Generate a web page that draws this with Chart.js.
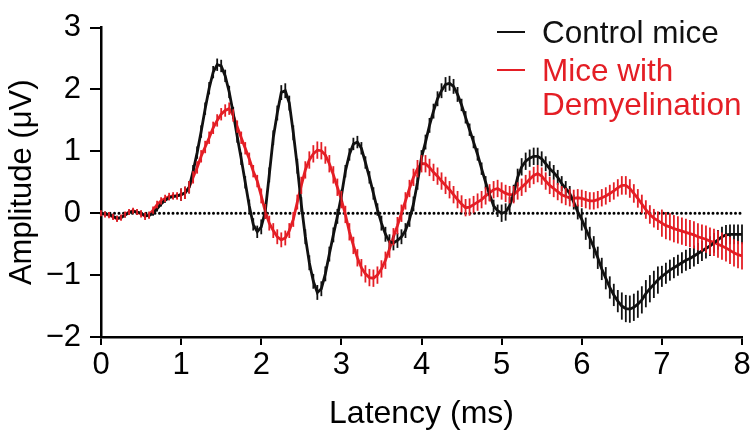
<!DOCTYPE html>
<html>
<head>
<meta charset="utf-8">
<script src="https://cdn.jsdelivr.net/npm/chart.js@4"></script>
<style>
  html, body { margin: 0; padding: 0; background: #fff; }
  #wrap { width: 755px; height: 443px; position: relative; }
</style>
</head>
<body>
<div id="wrap"><canvas id="chart" width="755" height="443"></canvas></div>
<script>
// sample spacing of the recordings (ms)
const step = 0.05;

// mean amplitude (µV) for control mice, one value every 0.05 ms from 0 to 8 ms
const controlMice = [
  0.00, -0.01, -0.02, -0.05, -0.08, -0.07, -0.03, 0.01, 0.03, 0.02,
  0.00, -0.04, -0.04, 0.00, 0.07, 0.15, 0.21, 0.25, 0.27, 0.28,
  0.30, 0.33, 0.42, 0.68, 0.98, 1.32, 1.69, 2.02, 2.28, 2.40,
  2.38, 2.22, 1.96, 1.62, 1.24, 0.88, 0.50, 0.12, -0.18, -0.30,
  -0.22, 0.03, 0.62, 1.22, 1.62, 1.95, 1.98, 1.78, 1.30, 0.76,
  0.14, -0.38, -0.80, -1.10, -1.28, -1.22, -0.98, -0.66, -0.35, -0.05,
  0.28, 0.68, 0.95, 1.12, 1.15, 1.05, 0.82, 0.58, 0.32, 0.06,
  -0.16, -0.34, -0.46, -0.48, -0.44, -0.38, -0.28, -0.10, 0.15, 0.50,
  0.90, 1.15, 1.42, 1.65, 1.85, 1.98, 2.08, 2.10, 2.05, 1.92,
  1.75, 1.55, 1.35, 1.15, 0.95, 0.72, 0.50, 0.30, 0.12, 0.04,
  0.00, 0.02, 0.12, 0.32, 0.58, 0.75, 0.84, 0.89, 0.92, 0.92,
  0.88, 0.80, 0.72, 0.66, 0.58, 0.48, 0.40, 0.32, 0.18, 0.02,
  -0.10, -0.25, -0.40, -0.55, -0.72, -0.90, -1.05, -1.20, -1.32, -1.42,
  -1.50, -1.54, -1.55, -1.52, -1.47, -1.40, -1.30, -1.22, -1.15, -1.08,
  -1.02, -0.97, -0.92, -0.88, -0.84, -0.80, -0.76, -0.73, -0.69, -0.65,
  -0.61, -0.57, -0.53, -0.48, -0.43, -0.38, -0.35, -0.34, -0.34, -0.34,
  -0.34
];

// mean amplitude (µV) for mice with demyelination, same sampling
const demyelMice = [
  0.00, -0.02, -0.03, -0.06, -0.09, -0.07, -0.02, 0.02, 0.04, 0.02,
  -0.01, -0.05, -0.03, 0.05, 0.14, 0.20, 0.24, 0.27, 0.28, 0.28,
  0.30, 0.33, 0.42, 0.58, 0.74, 0.92, 1.07, 1.22, 1.38, 1.50,
  1.60, 1.66, 1.69, 1.58, 1.40, 1.22, 1.05, 0.88, 0.68, 0.52,
  0.28, 0.03, -0.16, -0.28, -0.38, -0.43, -0.40, -0.28, -0.10, 0.18,
  0.45, 0.70, 0.86, 0.96, 1.02, 1.01, 0.94, 0.80, 0.62, 0.42,
  0.22, -0.02, -0.30, -0.52, -0.72, -0.88, -0.98, -1.04, -1.05, -1.00,
  -0.90, -0.76, -0.58, -0.38, -0.20, 0.00, 0.20, 0.40, 0.58, 0.72,
  0.80, 0.80, 0.74, 0.66, 0.60, 0.52, 0.45, 0.38, 0.30, 0.22,
  0.15, 0.09, 0.10, 0.14, 0.18, 0.22, 0.28, 0.33, 0.38, 0.40,
  0.36, 0.32, 0.30, 0.30, 0.36, 0.42, 0.48, 0.55, 0.61, 0.64,
  0.60, 0.52, 0.45, 0.40, 0.35, 0.30, 0.27, 0.25, 0.24, 0.25,
  0.24, 0.22, 0.20, 0.20, 0.22, 0.25, 0.28, 0.32, 0.36, 0.41,
  0.45, 0.45, 0.40, 0.32, 0.24, 0.15, 0.06, -0.02, -0.08, -0.12,
  -0.16, -0.20, -0.22, -0.25, -0.27, -0.29, -0.31, -0.33, -0.35, -0.38,
  -0.40, -0.42, -0.45, -0.47, -0.50, -0.53, -0.56, -0.60, -0.64, -0.67,
  -0.69
];

// SEM, one value per 0.5 ms window
const controlSem = [0.04, 0.04, 0.10, 0.10, 0.12, 0.12, 0.10, 0.12, 0.12, 0.10, 0.14, 0.12, 0.18, 0.22, 0.17, 0.16, 0.16];
const demyelSem  = [0.05, 0.06, 0.10, 0.10, 0.12, 0.14, 0.14, 0.14, 0.14, 0.14, 0.14, 0.14, 0.14, 0.15, 0.22, 0.22, 0.22];

const xTicks = [0, 1, 2, 3, 4, 5, 6, 7, 8];
const yTicks = [-2, -1, 0, 1, 2, 3];
const seriesNames = ['Control mice', ['Mice with', 'Demyelination']];

const BLACK = '#111111';
const RED = '#e41e25';

function toPoints(values) {
  return values.map((v, i) => ({ x: +(i * step).toFixed(2), y: v }));
}

// vertical error bars + the dotted zero line
const errorBars = {
  id: 'errorBars',
  beforeDatasetsDraw(chart) {
    const ctx = chart.ctx;
    const xs = chart.scales.x, ys = chart.scales.y;
    ctx.save();
    ctx.strokeStyle = '#000';
    ctx.lineWidth = 3;
    ctx.lineCap = 'round';
    ctx.setLineDash([0, 4.5]);
    ctx.beginPath();
    ctx.moveTo(xs.getPixelForValue(0), ys.getPixelForValue(0));
    ctx.lineTo(xs.getPixelForValue(8), ys.getPixelForValue(0));
    ctx.stroke();
    ctx.restore();
  },
  afterDatasetsDraw(chart) {
    const ctx = chart.ctx;
    const ys = chart.scales.y;
    chart.data.datasets.forEach((ds, di) => {
      const meta = chart.getDatasetMeta(di);
      ctx.save();
      ctx.strokeStyle = ds.borderColor;
      ctx.lineWidth = 1.8;
      meta.data.forEach((pt, i) => {
        const v = ds.data[i].y;
        const e = ds.sem[Math.floor(ds.data[i].x / 0.5)];
        ctx.beginPath();
        ctx.moveTo(pt.x, ys.getPixelForValue(v - e));
        ctx.lineTo(pt.x, ys.getPixelForValue(v + e));
        ctx.stroke();
      });
      ctx.restore();
    });
  }
};

// legend drawn at the top right of the plot
const sideLegend = {
  id: 'sideLegend',
  afterDraw(chart) {
    const ctx = chart.ctx;
    ctx.save();
    ctx.font = '31.5px "Liberation Sans", Arial, sans-serif';
    ctx.textBaseline = 'middle';
    const rows = [[32], [70, 104]];
    chart.data.datasets.forEach((ds, di) => {
      const ys = rows[di];
      ctx.strokeStyle = ds.borderColor;
      ctx.lineWidth = 2;
      ctx.beginPath();
      ctx.moveTo(497, ys[0]);
      ctx.lineTo(525, ys[0]);
      ctx.stroke();
      ctx.fillStyle = ds.borderColor;
      const lines = [].concat(seriesNames[di]);
      lines.forEach((t, k) => ctx.fillText(t, 542, ys[k] + 2));
    });
    ctx.restore();
  }
};

const tickFont = { family: '"Liberation Sans", Arial, sans-serif', size: 31 };
const titleFont = { family: '"Liberation Sans", Arial, sans-serif', size: 32 };

new Chart(document.getElementById('chart').getContext('2d'), {
  type: 'line',
  data: {
    datasets: [
      {
        label: 'Control mice',
        data: toPoints(controlMice),
        sem: controlSem,
        borderColor: BLACK,
        borderWidth: 2.8,
        pointRadius: 0,
        tension: 0
      },
      {
        label: 'Mice with Demyelination',
        data: toPoints(demyelMice),
        sem: demyelSem,
        borderColor: RED,
        borderWidth: 2.8,
        pointRadius: 0,
        tension: 0
      }
    ]
  },
  options: {
    responsive: false,
    animation: false,
    layout: { padding: { top: 15, right: 13, left: 0, bottom: 10 } },
    plugins: { legend: { display: false }, tooltip: { enabled: false } },
    scales: {
      x: {
        type: 'linear',
        min: 0, max: 8,
        afterBuildTicks: s => { s.ticks = xTicks.map(v => ({ value: v })); },
        afterFit: s => { s.height = 96; },
        border: { color: '#000', width: 2.5 },
        grid: { drawOnChartArea: false, color: '#000', lineWidth: 2, tickLength: 8 },
        ticks: { color: '#000', font: tickFont, padding: 2, maxRotation: 0 },
        title: { display: true, text: 'Latency (ms)', color: '#000', font: titleFont, padding: 0 }
      },
      y: {
        min: -2, max: 3,
        afterBuildTicks: s => { s.ticks = yTicks.map(v => ({ value: v })); },
        afterFit: s => { s.width = 101; },
        border: { color: '#000', width: 2.5 },
        grid: { drawOnChartArea: false, color: '#000', lineWidth: 2, tickLength: 11 },
        ticks: { color: '#000', font: tickFont, padding: 9,
                 callback: v => (v < 0 ? '\u2212' + Math.abs(v) : '' + v) },
        title: { display: true, text: 'Amplitude (\u03bcV)', color: '#000', font: { family: titleFont.family, size: 31 }, padding: { top: 4, bottom: 0 } }
      }
    }
  },
  plugins: [errorBars, sideLegend]
});
</script>
</body>
</html>
